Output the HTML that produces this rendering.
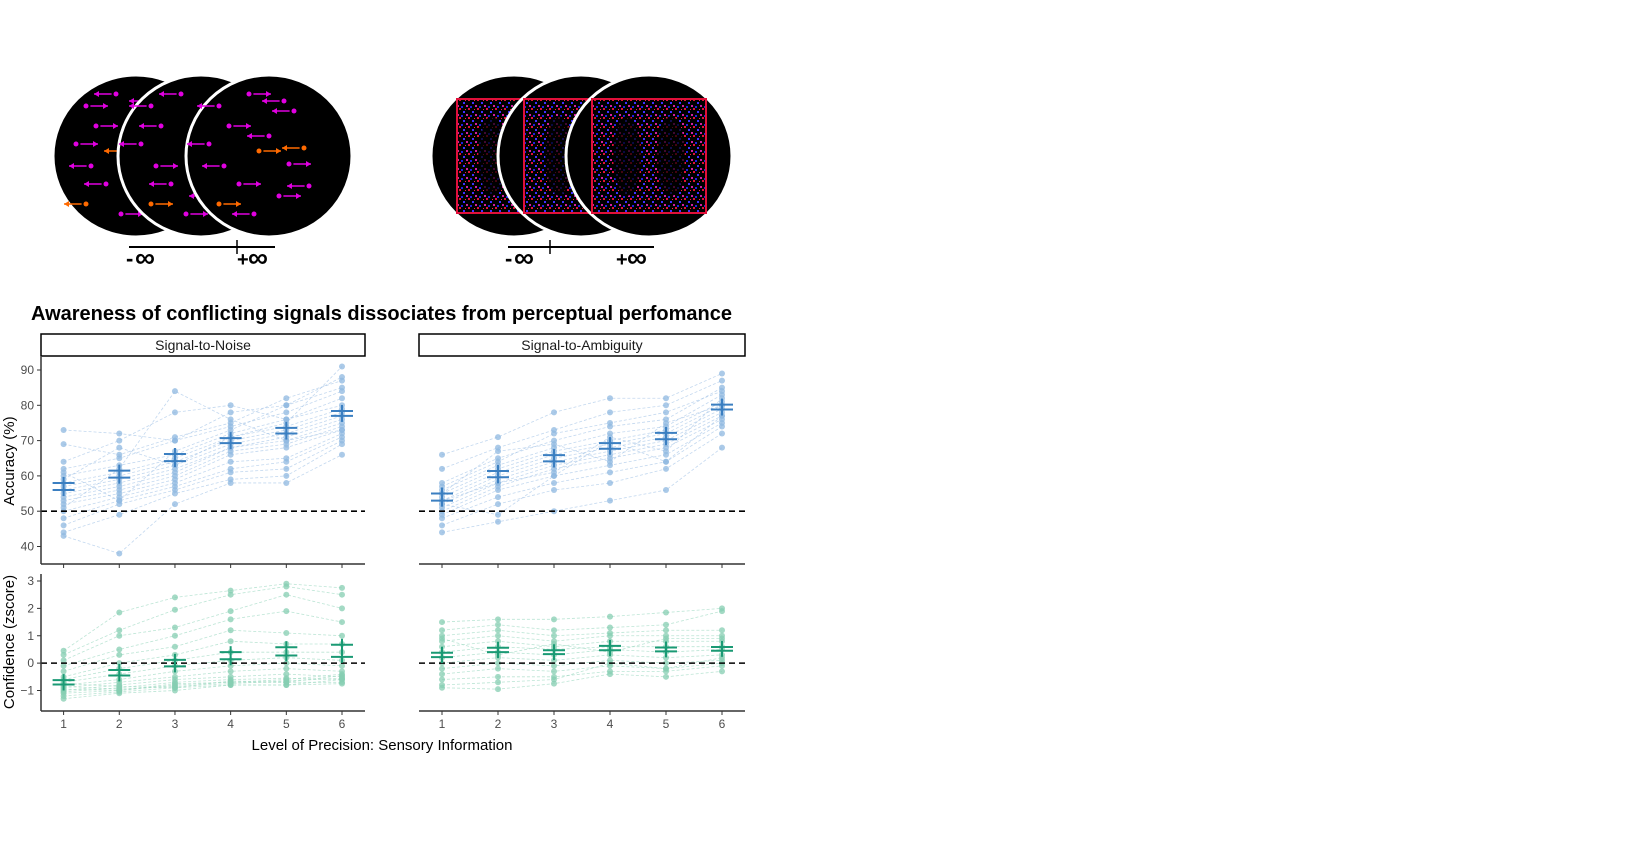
<!DOCTYPE html>
<html><head><meta charset="utf-8"><style>
body{margin:0;background:#fff;width:1631px;height:849px;overflow:hidden;font-family:"Liberation Sans",sans-serif}
svg{display:block}
</style></head><body>
<svg id="root" width="1631" height="849" viewBox="0 0 1631 849" xmlns="http://www.w3.org/2000/svg" font-family="Liberation Sans, sans-serif">
<defs>
<pattern id="noise" width="9" height="9" patternUnits="userSpaceOnUse">
<rect x="0" y="0" width="2" height="2" fill="#e0103a"/><rect x="4" y="3" width="2" height="2" fill="#4030ff"/><rect x="7" y="6" width="2" height="2" fill="#d020a0"/><rect x="2" y="7" width="2" height="2" fill="#2020e0"/><rect x="6" y="1" width="1" height="1" fill="#ff2040"/>
</pattern>
</defs>
<g id="stim"></g>
<text x="31" y="320" font-size="20" font-weight="bold">Awareness of conflicting signals dissociates from perceptual perfomance</text>
<g id="chart"></g>
</svg>
<script>
// ---- data ----
const levels=[1,2,3,4,5,6];
const accTicks=[40,50,60,70,80,90];
const confTicks=[-1,0,1,2,3];
const snAcc=[[73,72,70,78,80,85],[69,66,71,75,82,87],[62,65,70,74,78,84],[60,63,66,72,76,80],[58,61,65,71,74,79],[57,60,64,70,73,78],[56,59,63,69,72,77],[55,58,62,68,71,76],[54,57,61,68,70,75],[53,56,60,67,69,74],[52,55,59,66,68,73],[50,54,58,64,65,72],[48,53,57,62,64,71],[46,52,56,61,62,70],[44,49,55,59,60,69],[43,38,52,58,58,66],[64,70,78,80,76,82],[61,53,67,73,80,88],[59,68,63,71,75,91],[51,62,84,76,70,73]];
const saAcc=[[66,71,78,82,82,89],[62,68,73,78,80,87],[58,65,70,74,76,85],[56,63,68,72,74,83],[55,62,67,70,73,81],[54,61,66,69,72,80],[53,60,65,68,71,79],[52,59,64,67,70,78],[51,58,63,66,69,77],[50,57,62,65,68,76],[49,56,60,63,66,75],[48,54,58,61,64,74],[46,52,56,58,62,72],[44,47,50,53,56,68],[57,64,72,75,78,84],[53,58,61,71,67,82],[55,67,69,64,75,80],[52,49,60,70,64,77]];
const snConf=[[0.45,1.85,2.4,2.65,2.9,2.75],[0.3,1.2,1.95,2.5,2.8,2.5],[0.1,1.0,1.3,1.9,2.5,2.0],[-0.1,0.5,1.0,1.6,1.9,1.5],[-0.3,0.3,0.6,1.2,1.1,1.0],[-0.5,0.0,0.3,0.8,0.7,0.7],[-0.6,-0.2,0.1,0.4,0.4,0.4],[-0.7,-0.4,-0.1,0.1,0.2,0.1],[-0.8,-0.6,-0.3,-0.1,0.0,-0.1],[-0.9,-0.7,-0.5,-0.3,-0.2,-0.3],[-1.0,-0.8,-0.6,-0.5,-0.4,-0.5],[-1.05,-0.9,-0.7,-0.6,-0.55,-0.6],[-1.1,-1.0,-0.8,-0.7,-0.7,-0.7],[-1.2,-1.05,-0.9,-0.8,-0.8,-0.75],[-1.3,-1.1,-1.0,-0.8,-0.8,-0.6],[-0.85,-0.95,-0.85,-0.75,-0.65,-0.55],[-0.75,-0.85,-0.9,-0.65,-0.7,-0.45],[-0.95,-1.0,-0.75,-0.7,-0.6,-0.4]];
const saConf=[[1.5,1.6,1.6,1.7,1.85,2.0],[1.2,1.4,1.2,1.3,1.4,1.9],[1.0,1.2,1.0,1.1,1.2,1.2],[0.8,1.0,0.8,1.0,1.0,1.0],[0.6,0.8,0.6,0.8,0.8,0.8],[0.4,0.6,0.5,0.6,0.6,0.6],[0.2,0.4,0.3,0.5,0.4,0.5],[0.0,0.2,0.1,0.3,0.2,0.3],[-0.2,0.0,-0.1,0.1,0.0,0.1],[-0.4,-0.2,-0.3,-0.1,-0.2,0.0],[-0.6,-0.5,-0.5,-0.3,-0.3,-0.1],[-0.9,-0.95,-0.75,-0.4,-0.5,-0.3],[-0.8,-0.7,-0.6,0.0,-0.2,0.2],[0.9,0.3,0.7,0.4,0.9,0.9]];
const snAccMean=[57,60.5,65.2,70,72.8,77.7], snAccSE=[1,1,1,0.7,0.8,0.7];
const saAccMean=[54,60.5,65,68.5,71.3,79.5], saAccSE=[1,0.9,0.9,0.8,0.9,0.7];
const snConfMean=[-0.7,-0.35,0,0.27,0.43,0.45], snConfSE=[0.08,0.1,0.12,0.13,0.15,0.22];
const saConfMean=[0.3,0.48,0.4,0.55,0.5,0.52], saConfSE=[0.08,0.08,0.07,0.08,0.07,0.07];

const NS='http://www.w3.org/2000/svg';
function mk(parent,tag,attrs,text){const e=document.createElementNS(NS,tag);for(const k in attrs)e.setAttribute(k,attrs[k]);if(text!==undefined)e.textContent=text;parent.appendChild(e);return e;}

// ---- stimuli ----
const stim=document.getElementById('stim');
function arrowsGroup(g,cx,cy,seed){
  const pts=[[-50,-50,-1,0],[-20,-62,-1,0],[-40,-30,1,0],[-60,-12,-1,0],[0,-20,1,0],[-45,10,-1,0],[20,8,1,0],[-30,28,-1,0],[10,40,1,0],[-50,48,1,1],[25,-45,1,0],[35,-8,-1,1],[40,30,-1,0],[-15,58,1,0],[15,-55,-1,0],[-10,-5,1,1]];
  pts.forEach((p,i)=>{
    const col=p[3]?'#ff6a00':'#e000e0';
    const x=cx+p[0], y=cy+p[1];
    const dx=(((i+seed)%3)===0?-p[2]:p[2])*22;
    const a=mk(g,'g',{});
    
    
    mk(a,'circle',{cx:x,cy:y,r:2.5,fill:col});
    mk(a,'line',{x1:x+dx*0.2,y1:y,x2:x+dx,y2:y,stroke:col,'stroke-width':1.6});
    const s=Math.sign(dx);
    mk(a,'path',{d:`M${x+dx},${y} l${-s*5},-3 l0,6z`,fill:col});
  });
}
function circle(cx,cy,type,seed){
  const g=mk(stim,'g',{});
  
  
  mk(g,'ellipse',{cx:cx,cy:cy,rx:83,ry:81,fill:'#000',stroke:'#fff','stroke-width':3});
  if(type==='dots'){arrowsGroup(g,cx,cy,seed);}
  else{
    mk(g,'rect',{x:cx-57,y:cy-57,width:114,height:114,fill:'url(#noise)',stroke:'#e0103a','stroke-width':2});
    mk(g,'ellipse',{cx:cx-22,cy:cy,rx:14,ry:40,fill:'#000',opacity:0.7});
    mk(g,'ellipse',{cx:cx+22,cy:cy,rx:14,ry:40,fill:'#000',opacity:0.7});
  }
}
[136,201,269].forEach((c,i)=>circle(c,156,'dots',i));
[514,581,649].forEach((c,i)=>circle(c,156,'amb',i));
function scale(x1,x2,tx){
  const g=mk(stim,'g',{});
  
  
  mk(g,'line',{x1:x1,y1:247,x2:x2,y2:247,stroke:'#000','stroke-width':2});
  mk(g,'line',{x1:tx,y1:240,x2:tx,y2:254,stroke:'#000','stroke-width':1.5});
  mk(g,'text',{x:x1-3,y:266,'font-size':22,'font-weight':'bold'},'-');
  mk(g,'text',{x:x1+6,y:267,'font-size':28,'font-weight':'bold'},'∞');
  mk(g,'text',{x:x2-38,y:266,'font-size':20,'font-weight':'bold'},'+');
  mk(g,'text',{x:x2-27,y:267,'font-size':28,'font-weight':'bold'},'∞');
}
scale(129,275,237); scale(508,654,550);

// ---- chart ----
const chart=document.getElementById('chart');
const panelsX=[[41,365,63.6,342],[419,745,442,722]];
const rows=[{top:357,bot:564,v0:90,p0:370,v1:40,p1:546.5,ticks:accTicks,ref:50,col:'#3b7fc1',pcol:'#8fb8e0',lcol:'#a9c8e8',data:[snAcc,saAcc],mean:[snAccMean,saAccMean],se:[snAccSE,saAccSE]},
 {top:574,bot:711,v0:3,p0:581,v1:-1,p1:690.5,ticks:confTicks,ref:0,col:'#1a9a74',pcol:'#86ceb2',lcol:'#9fdac3',data:[snConf,saConf],mean:[snConfMean,saConfMean],se:[snConfSE,saConfSE]}];
rows.forEach((r,ri)=>{
  const y=v=>r.p0+(v-r.v0)*(r.p1-r.p0)/(r.v1-r.v0);
  panelsX.forEach((px,pi)=>{
    const x=l=>px[2]+(l-1)*(px[3]-px[2])/5;
    const g=mk(chart,'g',{});
    
    
    r.data[pi].forEach(s=>{
      const pl=mk(g,'polyline',{points:s.map((v,i)=>x(levels[i])+','+y(v)).join(' '),fill:'none',stroke:r.lcol,'stroke-width':0.8,'stroke-dasharray':'3,2',opacity:0.7});
      
      
    });
    r.data[pi].forEach(s=>s.forEach((v,i)=>{
      const c=mk(g,'circle',{cx:x(levels[i]),cy:y(v),r:3,fill:r.pcol,opacity:0.75});
      
      
    }));
    const rl=mk(g,'line',{x1:px[0],x2:px[1],y1:y(r.ref),y2:y(r.ref),stroke:'#000','stroke-width':1.6,'stroke-dasharray':'6,4'});
    
    
    r.mean[pi].forEach((m,i)=>{
      const xx=x(levels[i]), se=r.se[pi][i];
      const eb=mk(g,'g',{stroke:r.col,'stroke-width':2});
      
      
      mk(eb,'line',{x1:xx,x2:xx,y1:y(m-se)+6,y2:y(m+se)-6});
      mk(eb,'line',{x1:xx-11,x2:xx+11,y1:y(m+se),y2:y(m+se)});
      mk(eb,'line',{x1:xx-11,x2:xx+11,y1:y(m-se),y2:y(m-se)});
    });
    const ax=mk(g,'line',{x1:px[0],x2:px[1],y1:r.bot,y2:r.bot,stroke:'#333','stroke-width':1.5});
    
    
    levels.forEach(l=>{
      mk(g,'line',{x1:x(l),x2:x(l),y1:r.bot,y2:r.bot+4,stroke:'#333'});
      if(ri===1){const t=mk(g,'text',{x:x(l),y:r.bot+17,'font-size':12,fill:'#4d4d4d','text-anchor':'middle'},l);
        }
    });
    if(pi===0){
      const ya=mk(g,'line',{x1:px[0],x2:px[0],y1:r.top,y2:r.bot,stroke:'#333','stroke-width':1.5});
      
      
      r.ticks.forEach(t=>{
        mk(g,'line',{x1:px[0]-4,x2:px[0],y1:y(t),y2:y(t),stroke:'#333'});
        const tl=mk(g,'text',{x:px[0]-7,y:y(t)+4,'font-size':12,fill:'#4d4d4d','text-anchor':'end'},t<0?'\u2212'+(-t):t);
        
      });
    }
  });
});
['Signal-to-Noise','Signal-to-Ambiguity'].forEach((s,i)=>{
  const px=panelsX[i];
  const g=mk(chart,'g',{});
  
  
  mk(g,'rect',{x:px[0],y:334,width:px[1]-px[0],height:22,fill:'#fff',stroke:'#000','stroke-width':1.5});
  mk(g,'text',{x:(px[0]+px[1])/2,y:350,'font-size':14,'text-anchor':'middle',fill:'#1a1a1a'},s);
});
let t=mk(chart,'text',{x:382,y:750,'font-size':15,'text-anchor':'middle'},'Level of Precision: Sensory Information');

t=mk(chart,'text',{x:0,y:0,'font-size':15,'text-anchor':'middle',transform:'translate(14,461) rotate(-90)'},'Accuracy (%)');

t=mk(chart,'text',{x:0,y:0,'font-size':15,'text-anchor':'middle',transform:'translate(14,642) rotate(-90)'},'Confidence (zscore)');

</script>
</body></html>
